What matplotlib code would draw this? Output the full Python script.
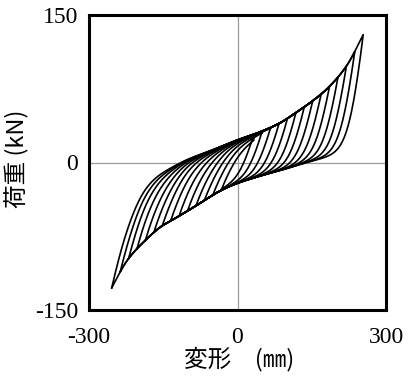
import numpy as np
import matplotlib.pyplot as plt

plt.rcParams['font.family'] = ['Noto Sans CJK JP', 'DejaVu Sans']

# peak displacements of the loops (mm)
amplitudes = [254, 237, 220, 203, 186, 169, 152, 135, 118, 101, 84, 67, 50, 33]

# loading backbone (upper curve that the loading branches run into)
load_x = [-262, -220, -188, -134, -100, -50, 0, 40, 85, 119, 150, 179, 220, 256]
load_y = [-33, -22, -13, -3, 4, 13, 23, 30, 40, 51, 62, 74, 98, 132]

# unloading backbone (lower curve that the unloading branches run into)
unload_x = [-258, -222, -188, -154, -120, -87, -30, 0, 50, 100, 140, 200, 262]
unload_y = [-131, -99, -80, -65, -55, -45, -27.5, -21, -13, -6, 0, 7, 14]

x_ticks = [-300, 0, 300]
y_ticks = [-150, 0, 150]


def pchip(xk, yk, x):
    xk = np.asarray(xk, float)
    yk = np.asarray(yk, float)
    h = np.diff(xk)
    d = np.diff(yk) / h
    m = np.zeros_like(yk)
    m[0], m[-1] = d[0], d[-1]
    for k in range(1, len(xk) - 1):
        if d[k - 1] * d[k] > 0:
            w1 = 2 * h[k] + h[k - 1]
            w2 = h[k] + 2 * h[k - 1]
            m[k] = (w1 + w2) / (w1 / d[k - 1] + w2 / d[k])
    i = np.clip(np.searchsorted(xk, x) - 1, 0, len(xk) - 2)
    t = (x - xk[i]) / h[i]
    h00 = 2 * t**3 - 3 * t**2 + 1
    h10 = t**3 - 2 * t**2 + t
    h01 = -2 * t**3 + 3 * t**2
    h11 = t**3 - t**2
    return h00 * yk[i] + h10 * h[i] * m[i] + h01 * yk[i + 1] + h11 * h[i] * m[i + 1]


def upper(x):
    return pchip(load_x, load_y, x)


def lower(x):
    return pchip(unload_x, unload_y, x)


def ramp(d, gap, d0, w):
    # smooth hinge: straight drop over d0, then bending into the backbone
    r = w * np.logaddexp(0, (d0 - d) / w)
    r0 = w * np.logaddexp(0, d0 / w)
    return gap * r / r0


fig = plt.figure(figsize=(4.08, 3.85), dpi=100)
ax = fig.add_axes([89 / 408, 1 - 310 / 385, 297 / 408, 295 / 385])

ax.axhline(0, color='#9a9a9a', lw=0.9, zorder=1)
ax.axvline(0, color='#9a9a9a', lw=0.9, zorder=1)

for a in amplitudes:
    g_load = upper(-a) - lower(-a)
    g_unload = upper(a) - lower(a)
    xl = np.linspace(-a, a, 600)
    yl = upper(xl) - ramp(xl + a, g_load, g_load / 3.3, 27.0)
    xu = np.linspace(a, -a, 600)
    yu = lower(xu) + ramp(a - xu, g_unload, 24.0, 13.0)
    ax.plot(np.r_[xl, xu], np.r_[yl, yu], color='black', lw=1.2, zorder=2)

ax.set_xlim(-300, 300)
ax.set_ylim(-150, 150)
ax.set_xticks(x_ticks)
ax.set_xticklabels([str(v) for v in x_ticks])
ax.set_yticks(y_ticks)
ax.set_yticklabels([str(v) for v in y_ticks])
ax.tick_params(axis='x', length=0, pad=12)
ax.tick_params(axis='y', length=0, pad=8)
for lab in ax.get_xticklabels() + ax.get_yticklabels():
    lab.set_family('Liberation Serif')
    lab.set_fontsize(17)
for s in ax.spines.values():
    s.set_linewidth(2.2)

ax.set_xlabel('変形　(㎜)', fontsize=17, va='center')
ax.xaxis.set_label_coords(0.505, -0.166)
ax.set_ylabel('荷重 (kN)', fontsize=17, va='center')
ax.yaxis.set_label_coords(-0.241, 0.514)

plt.savefig('out.png', dpi=100)
